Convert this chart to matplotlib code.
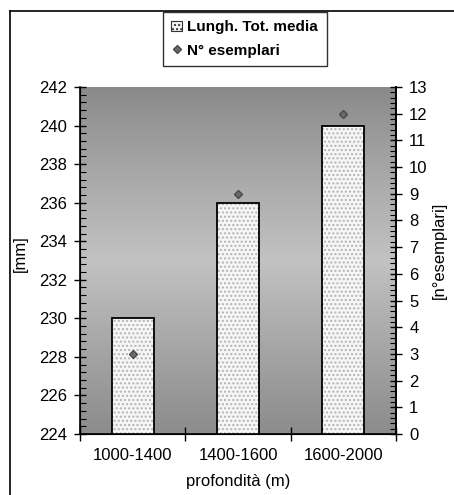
"""Mean total length and specimen count by depth band."""

import matplotlib

matplotlib.use("Agg")
import matplotlib.pyplot as plt
import numpy as np
from matplotlib.colors import LinearSegmentedColormap
from matplotlib.lines import Line2D
from matplotlib.patches import Patch
from matplotlib.ticker import MultipleLocator

plt.rcParams["font.family"] = ["Liberation Sans", "DejaVu Sans"]

depth_bands = ["1000-1400", "1400-1600", "1600-2000"]
mean_length_mm = [230, 236, 240]
n_specimens = [3, 9, 12]

fig = plt.figure(figsize=(4.54, 4.95), dpi=100)
ax = fig.add_axes([80 / 454, 61 / 495, 316 / 454, 347 / 495])
ax.set_facecolor("none")

# vertical grey gradient behind the plot area (dark - light - dark)
bg_cmap = LinearSegmentedColormap.from_list(
    "bg", ["#8a8a8a", "#a8a8a8", "#c2c2c2", "#a6a6a6", "#8c8c8c"]
)
ax.imshow(
    np.linspace(0, 1, 256).reshape(-1, 1),
    cmap=bg_cmap,
    extent=[0, 1, 0, 1],
    transform=ax.transAxes,
    aspect="auto",
    zorder=0,
)

x = np.arange(len(depth_bands))
ax.bar(x, mean_length_mm, width=0.4, bottom=0, color="#f6f6f6",
       edgecolor="#b4b4b4", hatch="....", linewidth=0, zorder=2)
ax.bar(x, mean_length_mm, width=0.4, color="none", edgecolor="black",
       linewidth=1.3, zorder=3)

ax.set_xlim(-0.5, 2.5)
ax.set_ylim(224, 242)
ax.yaxis.set_major_locator(MultipleLocator(2))
ax.yaxis.set_minor_locator(MultipleLocator(0.4))
ax.set_xticks([-0.5, 0.5, 1.5, 2.5])
ax.set_xticklabels([])
ax.set_xticks(x, minor=True)
ax.set_xticklabels(depth_bands, minor=True, fontsize=12)
ax.tick_params(axis="x", which="major", direction="inout", length=10, width=1)
ax.tick_params(axis="x", which="minor", length=0, pad=10)
ax.tick_params(axis="y", which="major", direction="inout", length=9, width=1,
               labelsize=12, pad=5)
ax.tick_params(axis="y", which="minor", direction="in", length=4, width=0.8)
ax.spines["top"].set_visible(False)
for side in ("left", "bottom", "right"):
    ax.spines[side].set_linewidth(1.2)
ax.set_ylabel("[mm]", fontsize=12)
ax.yaxis.set_label_coords(-0.165, 0.52)
ax.set_xlabel("profondità (m)", fontsize=12, labelpad=8)

ax2 = ax.twinx()
ax2.set_ylim(0, 13)
ax2.yaxis.set_major_locator(MultipleLocator(1))
ax2.yaxis.set_minor_locator(MultipleLocator(0.2))
ax2.tick_params(axis="y", which="major", direction="inout", length=9, width=1,
                labelsize=12, pad=5)
ax2.tick_params(axis="y", which="minor", direction="in", length=4, width=0.8)
ax2.spines["top"].set_visible(False)
ax2.spines["right"].set_linewidth(1.2)
ax2.plot(x, n_specimens, linestyle="none", marker="D", markersize=4.5,
         color="#6a6a6a", markeredgecolor="#4a4a4a", zorder=5)
ax2.set_ylabel("[n°esemplari]", fontsize=12)
ax2.yaxis.set_label_coords(1.115, 0.53)

handles = [
    Patch(facecolor="#f6f6f6", edgecolor="#333333", hatch="....", linewidth=0.8),
    Line2D([], [], linestyle="none", marker="D", markersize=4.5,
           color="#6a6a6a", markeredgecolor="#4a4a4a"),
]
leg = fig.legend(
    handles,
    ["Lungh. Tot. media", "N° esemplari"],
    loc="upper left",
    bbox_to_anchor=(163 / 454, 1 - 12 / 495),
    frameon=True,
    fancybox=False,
    prop={"weight": "bold", "size": 11},
    handlelength=0.7,
    handleheight=0.7,
    handletextpad=0.35,
    labelspacing=0.6,
    borderpad=0.55,
    borderaxespad=0,
)
leg.get_frame().set_edgecolor("black")
leg.get_frame().set_linewidth(1.0)

# outer chart frame (only top and left edges fall inside the crop)
fig.add_artist(Line2D([10 / 454, 10 / 454], [0, 1 - 11 / 495],
                      transform=fig.transFigure, color="black", linewidth=1.2))
fig.add_artist(Line2D([10 / 454, 1], [1 - 11 / 495, 1 - 11 / 495],
                      transform=fig.transFigure, color="black", linewidth=1.2))

fig.savefig("out.png", dpi=100)
